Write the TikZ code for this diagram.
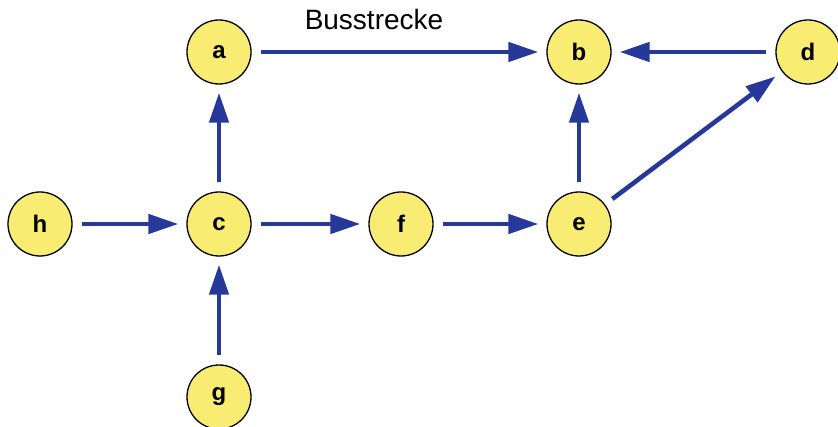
\documentclass[tikz,border=0pt]{standalone}
\usepackage{fontspec}
\setmainfont{Liberation Sans}
\usetikzlibrary{arrows.meta}
\definecolor{nodefill}{HTML}{F8EC73}
\definecolor{edgeblue}{HTML}{26399A}
\begin{document}
\begin{tikzpicture}[x=1pt,y=-1pt,
  vert/.style={circle,draw=black,line width=1.3pt,fill=nodefill,minimum size=64pt,inner sep=0pt,font=\fontsize{24}{28}\selectfont\bfseries},
  edge/.style={draw=edgeblue,line width=4.6pt,-{Triangle[length=30pt,width=19pt]},shorten <=9pt,shorten >=8pt}]
\useasboundingbox (0,0) rectangle (838,427);
\node[vert] (a) at (219,52) {a};
\node[vert] (b) at (579,52) {b};
\node[vert] (d) at (808,52) {d};
\node[vert] (h) at (40,224) {h};
\node[vert] (c) at (219,224) {c};
\node[vert] (f) at (401,224) {f};
\node[vert] (e) at (579,224) {e};
\node[vert] (g) at (219,397) {g};
\node[font=\fontsize{28}{32}\selectfont] (lbl) at (374,19) {Busstrecke};
\draw[edge] (a) -- (b);
\draw[edge] (d) -- (b);
\draw[edge] (c) -- (a);
\draw[edge] (h) -- (c);
\draw[edge] (c) -- (f);
\draw[edge] (f) -- (e);
\draw[edge] (e) -- (b);
\draw[edge] (g) -- (c);
\draw[edge] (e) -- (d);
\end{tikzpicture}
\end{document}
